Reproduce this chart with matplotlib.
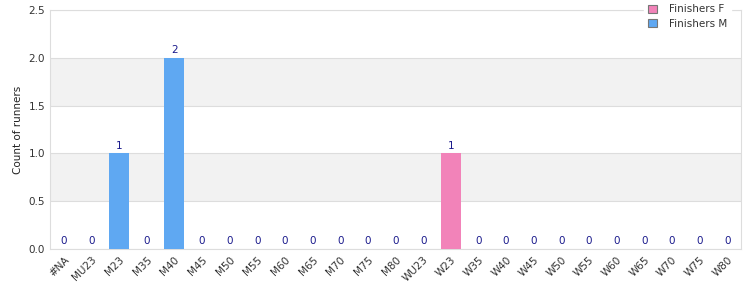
import matplotlib
matplotlib.use("Agg")
import matplotlib.pyplot as plt
import numpy as np

categories = ["#NA", "MU23", "M23", "M35", "M40", "M45", "M50", "M55", "M60", "M65",
              "M70", "M75", "M80", "WU23", "W23", "W35", "W40", "W45", "W50", "W55",
              "W60", "W65", "W70", "W75", "W80"]
finishers_f = [0, 0, 0, 0, 0, 0, 0, 0, 0, 0, 0, 0, 0, 0, 1, 0, 0, 0, 0, 0, 0, 0, 0, 0, 0]
finishers_m = [0, 0, 1, 0, 2, 0, 0, 0, 0, 0, 0, 0, 0, 0, 0, 0, 0, 0, 0, 0, 0, 0, 0, 0, 0]
yticks = [0.0, 0.5, 1.0, 1.5, 2.0, 2.5]

col_f = "#F283B9"
col_m = "#5FA8F2"
label_col = "#1a1a8c"

fig = plt.figure(figsize=(7.5, 3), dpi=100)
ax = fig.add_axes([50/750, 51/300, 691/750, 239/300])

x = np.arange(len(categories))
f = np.array(finishers_f)
m = np.array(finishers_m)
w = 0.72
ax.bar(x, f, width=w, color=col_f, label="Finishers F", zorder=3)
ax.bar(x, m, width=w, bottom=f, color=col_m, label="Finishers M", zorder=3)

tot = f + m
for xi, t in zip(x, tot):
    ax.text(xi, t + 0.03, f"{int(t)}", ha="center", va="bottom", color=label_col, fontsize=7.5, zorder=4)

ax.set_xlim(-0.5, len(categories) - 0.5)
ax.set_ylim(0, 2.5)
ax.set_yticks(yticks)
ax.set_yticklabels([f"{v:.1f}" for v in yticks])
for i in range(len(yticks) - 1):
    if i % 2 == 1:
        ax.axhspan(yticks[i], yticks[i + 1], color="#f2f2f2", zorder=0, lw=0)
for v in yticks:
    ax.axhline(v, color="#dddddd", lw=0.8, zorder=1)

ax.set_xticks(x)
ax.set_xticklabels(categories, rotation=45, ha="right", rotation_mode="anchor")
ax.tick_params(axis="both", length=0, labelsize=7.5, labelcolor="#333333")
ax.tick_params(axis="x", pad=4)
ax.set_ylabel("Count of runners", fontsize=7.5, color="#222222")
for s in ax.spines.values():
    s.set_color("#dddddd")
    s.set_linewidth(0.8)

leg = fig.legend(loc="upper left", bbox_to_anchor=(644/750, 1.0), frameon=True,
                 fontsize=7.5, handlelength=0.8, handleheight=0.8, labelspacing=0.45,
                 borderaxespad=0.0, borderpad=0.4, handletextpad=1.2)
leg.get_frame().set_edgecolor("white")
leg.get_frame().set_facecolor("white")
leg.get_frame().set_alpha(1)
for h in leg.legend_handles:
    h.set_edgecolor("#777777")
    h.set_linewidth(0.8)
for t in leg.get_texts():
    t.set_color("#333333")

fig.savefig("out.png", dpi=100)
